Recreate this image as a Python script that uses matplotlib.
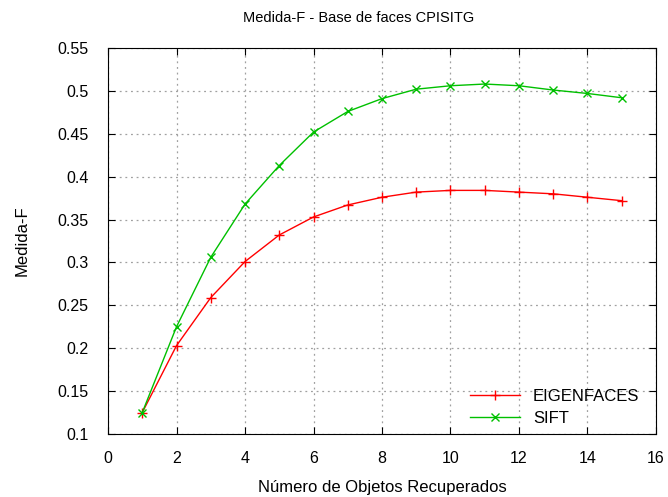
import matplotlib
matplotlib.use("Agg")
import matplotlib.pyplot as plt

# data
n_objetos = list(range(1, 16))
eigenfaces = [0.125, 0.203, 0.259, 0.301, 0.332, 0.353, 0.367, 0.376,
              0.382, 0.384, 0.384, 0.382, 0.380, 0.376, 0.372]
sift = [0.125, 0.225, 0.306, 0.368, 0.413, 0.452, 0.476, 0.491,
        0.502, 0.506, 0.508, 0.506, 0.501, 0.497, 0.492]

plt.rcParams["font.family"] = ["Liberation Sans", "DejaVu Sans"]

fig = plt.figure(figsize=(6.68, 4.97), dpi=100)
ax = fig.add_axes([0.1617, 0.1268, 0.8203, 0.7766])

ax.plot(n_objetos, eigenfaces, color="#ff0000", linewidth=1, marker="+",
        markersize=7, label="EIGENFACES")
ax.plot(n_objetos, sift, color="#00c000", linewidth=1, marker="x",
        markersize=6, label="SIFT")

ax.set_xlim(0, 16)
ax.set_ylim(0.1, 0.55)
ax.set_xticks(range(0, 17, 2))
ax.set_yticks([0.1, 0.15, 0.2, 0.25, 0.3, 0.35, 0.4, 0.45, 0.5, 0.55])
ax.set_yticklabels(["0.1", "0.15", "0.2", "0.25", "0.3", "0.35", "0.4",
                    "0.45", "0.5", "0.55"])
ax.tick_params(direction="in", top=True, right=True, length=5,
               labelsize=11.5)
ax.tick_params(axis="y", pad=14)
ax.tick_params(axis="x", pad=12)
ax.grid(True, color="#a0a0a0", linestyle=(0, (1.5, 3)), linewidth=0.9)

fig.text(0.537, 0.963, "Medida-F - Base de faces CPISITG", fontsize=10.5,
         ha="center", va="center")
ax.set_xlabel("Número de Objetos Recuperados", fontsize=12, labelpad=10)
ax.set_ylabel("Medida-F", fontsize=12, labelpad=20)

leg = ax.legend(loc="lower right", frameon=False, fontsize=12,
                handlelength=3.0, borderaxespad=0.1, labelspacing=0.4,
                bbox_to_anchor=(0.985, 0.0))

fig.savefig("out.png", dpi=100)
